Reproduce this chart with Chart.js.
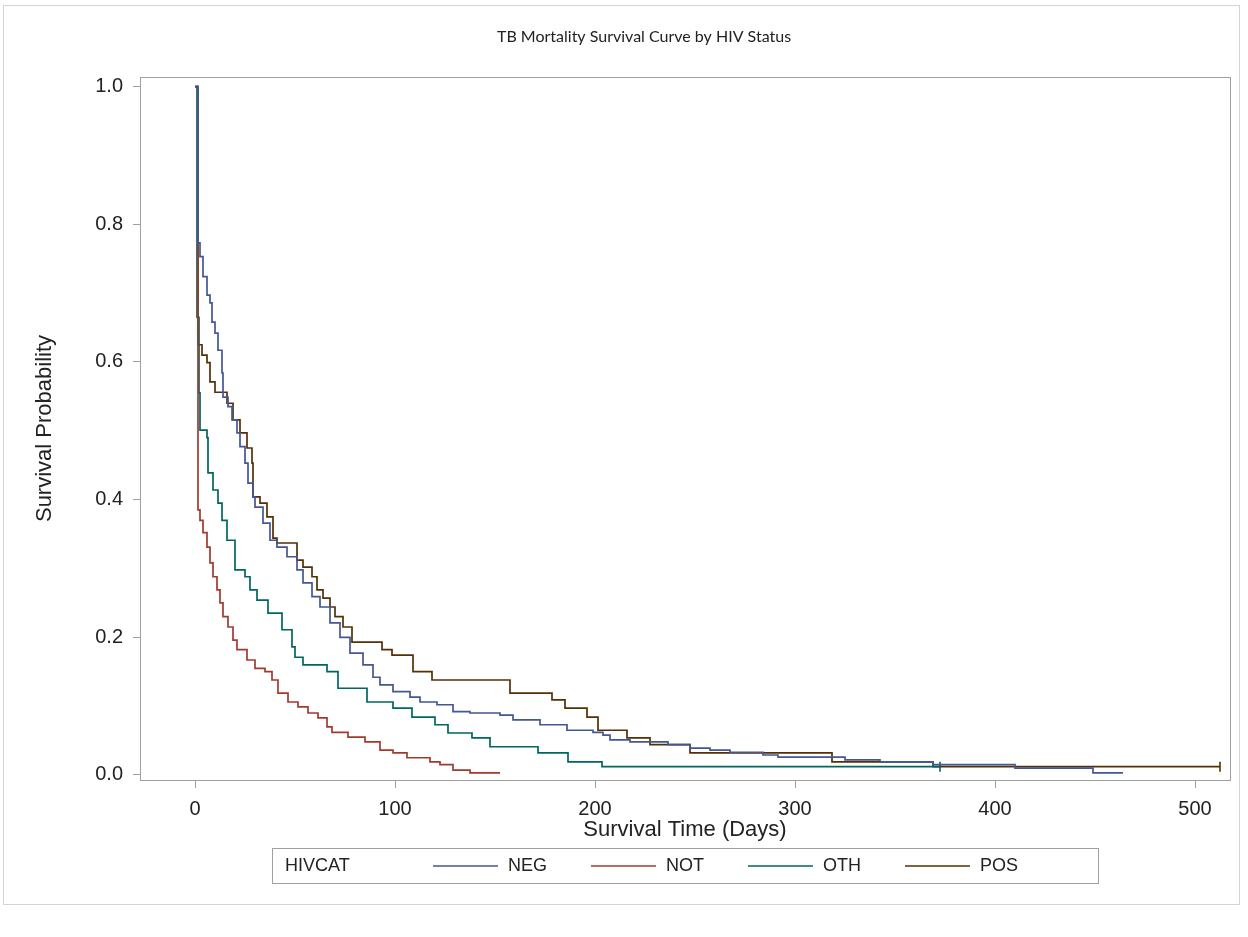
<!DOCTYPE html>
<html>
<head>
<meta charset="utf-8">
<title>TB Mortality Survival Curve by HIV Status</title>
<script src="https://cdn.jsdelivr.net/npm/chart.js@4.4.0/dist/chart.umd.min.js"></script>
<style>
  html, body { margin: 0; padding: 0; background: #fff; }
  #wrap { width: 1248px; height: 937px; }
</style>
</head>
<body>
<div id="wrap"><canvas id="kmChart" width="1248" height="937"></canvas></div>
<script>
// Kaplan-Meier estimates (days, survival probability)
const groups = ["NEG", "NOT", "OTH", "POS"];
const groupColors = ["#445694", "#A23A2E", "#01665E", "#543005"];

const negDays = [0, 1.5, 2.5, 4, 6, 7.5, 8.5, 10, 11.5, 13.5, 14, 16.5, 18.5, 21, 22.5, 25, 26.5, 29, 30, 34, 37.5, 41, 46, 51, 54, 58.5, 62.5, 67.5, 72.5, 77.5, 84, 89, 92.5, 99, 107.5, 112.5, 121, 129, 137.5, 152.5, 159, 172.5, 186, 199, 204, 207.5, 217.5, 236.5, 247.5, 257.5, 267.5, 284, 291.5, 325, 342.5, 369, 410, 449, 464];
const negSurv = [1, 0.773, 0.753, 0.724, 0.697, 0.686, 0.658, 0.642, 0.617, 0.584, 0.549, 0.535, 0.516, 0.497, 0.477, 0.453, 0.424, 0.404, 0.389, 0.366, 0.341, 0.331, 0.317, 0.298, 0.279, 0.259, 0.244, 0.221, 0.2, 0.177, 0.16, 0.142, 0.131, 0.121, 0.113, 0.106, 0.102, 0.092, 0.09, 0.087, 0.08, 0.073, 0.065, 0.062, 0.058, 0.051, 0.048, 0.044, 0.039, 0.036, 0.033, 0.029, 0.026, 0.022, 0.019, 0.015, 0.01, 0.003, 0.003];

const notDays = [0, 1.5, 2.5, 4, 6, 7.5, 9, 11, 12.5, 14, 16.5, 19, 21, 26, 30, 35, 38.5, 41.5, 46.5, 51.5, 56.5, 61.5, 66, 68.5, 76.5, 85, 92.5, 99, 106, 117.5, 122.5, 129, 137.5, 152.5];
const notSurv = [1, 0.385, 0.37, 0.352, 0.331, 0.308, 0.288, 0.269, 0.25, 0.23, 0.215, 0.196, 0.182, 0.167, 0.155, 0.15, 0.138, 0.119, 0.106, 0.099, 0.09, 0.083, 0.07, 0.062, 0.055, 0.048, 0.036, 0.032, 0.025, 0.019, 0.015, 0.007, 0.003, 0.003];

const othDays = [0, 1, 2, 2.5, 6, 6.5, 9, 11.5, 13.5, 16, 20, 25, 27.5, 31, 36.5, 43.5, 48.5, 50, 54, 66, 71.5, 86, 99, 108.5, 120, 126.5, 138.5, 147.5, 171.5, 186.5, 203.5, 372.5];
const othSurv = [1, 0.665, 0.555, 0.501, 0.49, 0.439, 0.414, 0.395, 0.37, 0.341, 0.298, 0.288, 0.269, 0.254, 0.235, 0.211, 0.186, 0.171, 0.16, 0.15, 0.126, 0.106, 0.097, 0.084, 0.073, 0.061, 0.054, 0.041, 0.032, 0.019, 0.012, 0.012];

const posDays = [0, 1.5, 3.5, 6, 7.5, 10, 16, 19, 22.5, 26, 28.5, 29, 32.5, 36, 39, 41, 51, 54, 58.5, 61, 64, 67.5, 70, 74, 78.5, 93.5, 98.5, 109, 118.5, 157.5, 178.5, 185, 196, 201.5, 216, 227.5, 247.5, 318.5, 369, 512.5];
const posSurv = [1, 0.625, 0.61, 0.599, 0.571, 0.556, 0.54, 0.516, 0.497, 0.475, 0.453, 0.404, 0.395, 0.375, 0.344, 0.337, 0.312, 0.302, 0.288, 0.269, 0.257, 0.244, 0.23, 0.215, 0.193, 0.182, 0.174, 0.15, 0.138, 0.119, 0.109, 0.097, 0.084, 0.065, 0.054, 0.044, 0.032, 0.019, 0.012, 0.012];

// censored end points
const censorGroup = ["OTH", "POS"];
const censorDays = [372.5, 512.5];
const censorSurv = [0.012, 0.012];

const xTicks = [0, 100, 200, 300, 400, 500];
const yTicks = [0, 0.2, 0.4, 0.6, 0.8, 1.0];

const seriesDays = [negDays, notDays, othDays, posDays];
const seriesSurv = [negSurv, notSurv, othSurv, posSurv];

const axisGray = "#a0a0a0";
const textColor = "#222";
const sansFont = "'Liberation Sans', Arial, sans-serif";

const datasets = groups.map((g, i) => ({
  label: g,
  data: seriesDays[i].map((d, j) => ({ x: d, y: seriesSurv[i][j] })),
  borderColor: groupColors[i],
  borderWidth: 1.7,
  stepped: "before",
  pointRadius: 0,
  fill: false
}));

datasets.push({
  label: "censor",
  type: "scatter",
  data: censorDays.map((d, j) => ({ x: d, y: censorSurv[j] })),
  pointStyle: "line",
  rotation: 90,
  pointRadius: 5,
  borderWidth: 1.6,
  borderColor: censorGroup.map(g => groupColors[groups.indexOf(g)])
});

// plot frame, outer border, title and the boxed legend
const decorations = {
  id: "decorations",
  beforeDraw(chart) {
    const c = chart.ctx;
    c.save();
    c.fillStyle = "#fff";
    c.fillRect(0, 0, chart.width, chart.height);
    c.strokeStyle = "#d4d4d4";
    c.lineWidth = 1;
    c.strokeRect(3.5, 5.5, 1236, 899);
    c.restore();
  },
  afterDraw(chart) {
    const c = chart.ctx;
    const a = chart.chartArea;
    c.save();
    c.strokeStyle = axisGray;
    c.lineWidth = 1;
    c.strokeRect(Math.round(a.left) + 0.5, Math.round(a.top) + 0.5,
      Math.round(a.right - a.left), Math.round(a.bottom - a.top));

    // title
    c.fillStyle = textColor;
    c.font = "16px Lato, 'Open Sans', sans-serif";
    c.textAlign = "center";
    c.textBaseline = "middle";
    c.fillText("TB Mortality Survival Curve by HIV Status", 644, 37);

    // legend
    const ly = 866;
    c.strokeStyle = axisGray;
    c.strokeRect(272.5, 848.5, 826, 35);
    c.font = "18px " + sansFont;
    c.textAlign = "left";
    c.fillStyle = textColor;
    c.fillText("HIVCAT", 285, ly);
    let x = 433;
    groups.forEach((g, i) => {
      c.strokeStyle = groupColors[i];
      c.lineWidth = 1.6;
      c.beginPath();
      c.moveTo(x, ly);
      c.lineTo(x + 65, ly);
      c.stroke();
      c.fillStyle = textColor;
      c.fillText(g, x + 75, ly);
      x += 75 + c.measureText(g).width + 44;
    });
    c.restore();
  }
};

new Chart(document.getElementById("kmChart").getContext("2d"), {
  type: "line",
  data: { datasets: datasets },
  options: {
    responsive: false,
    animation: false,
    layout: { padding: { left: 20, top: 77, right: 18, bottom: 87 } },
    plugins: {
      legend: { display: false },
      title: { display: false },
      tooltip: { enabled: false }
    },
    scales: {
      x: {
        type: "linear",
        min: -27.5,
        max: 517.5,
        afterBuildTicks: s => { s.ticks = xTicks.map(v => ({ value: v })); },
        afterFit: s => { s.height = 70; },
        border: { display: false },
        grid: { drawOnChartArea: false, drawTicks: true, tickLength: 8, color: axisGray },
        ticks: { color: textColor, padding: 9, font: { family: sansFont, size: 20 }, callback: v => v },
        title: { display: true, text: "Survival Time (Days)", color: textColor,
          font: { family: sansFont, size: 22 }, padding: { top: 0, bottom: 7 } }
      },
      y: {
        min: -0.0073,
        max: 1.014,
        afterBuildTicks: s => { s.ticks = yTicks.map(v => ({ value: v })); },
        afterFit: s => { s.width = 120; },
        border: { display: false },
        grid: { drawOnChartArea: false, drawTicks: true, tickLength: 7, color: axisGray },
        ticks: { color: textColor, padding: 10, font: { family: sansFont, size: 20 }, callback: v => v.toFixed(1) },
        title: { display: true, text: "Survival Probability", color: textColor,
          font: { family: sansFont, size: 22 }, padding: { top: 12, bottom: 0 } }
      }
    }
  },
  plugins: [decorations]
});
</script>
</body>
</html>
